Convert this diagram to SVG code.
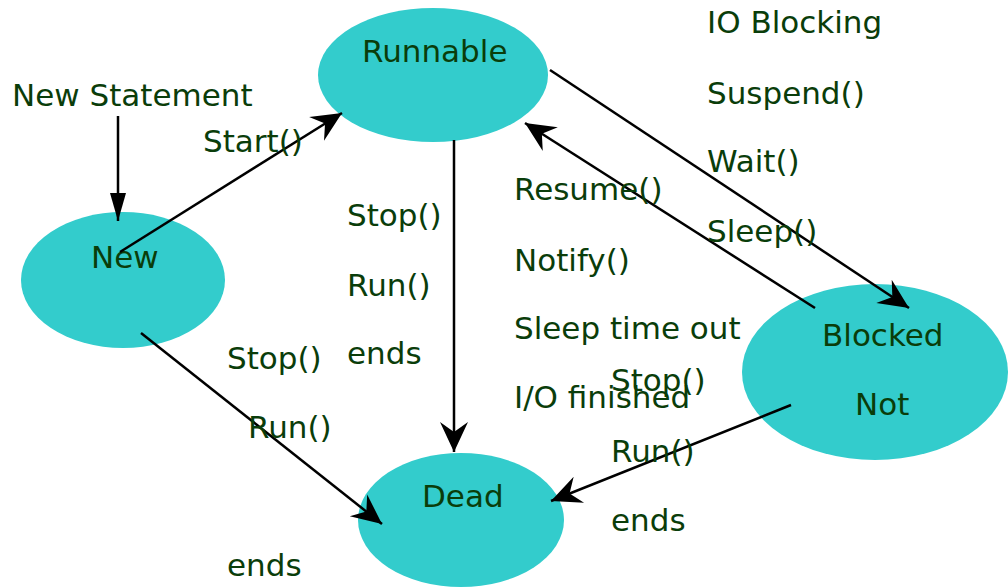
<svg xmlns="http://www.w3.org/2000/svg" width="1008" height="588" viewBox="0 0 1008 588">
<defs>
<style>
.n{fill:#33CCCC;stroke:none}
.t{font-family:"DejaVu Sans","Verdana",sans-serif;font-size:31px;fill:#0A3D0A}
.c{stroke:#000;stroke-width:2.5;fill:none}
</style>
<marker id="barb" markerUnits="userSpaceOnUse" viewBox="-32 -16 34 32" refX="0" refY="0" markerWidth="34" markerHeight="32" orient="auto">
<path d="M0,0 L-30,-14 L-20,0 L-30,14 Z" fill="#000"/>
</marker>
<marker id="tri" markerUnits="userSpaceOnUse" viewBox="-30 -10 32 20" refX="0" refY="0" markerWidth="32" markerHeight="20" orient="auto">
<path d="M0,0 L-28,-8 L-28,8 Z" fill="#000"/>
</marker>
</defs>
<rect width="1008" height="588" fill="#fff"/>
<g id="node-runnable"><ellipse class="n" cx="433" cy="75" rx="115" ry="67"/><text class="t" x="362" y="62">Runnable</text></g>
<g id="node-new"><ellipse class="n" cx="123" cy="280" rx="102" ry="68"/><text class="t" x="91" y="268">New</text></g>
<g id="node-dead"><ellipse class="n" cx="461" cy="520" rx="103" ry="67"/><text class="t" x="422" y="507">Dead</text></g>
<g id="node-blocked"><ellipse class="n" cx="875" cy="372" rx="133" ry="88"/><text class="t" x="822" y="346">Blocked</text><text class="t" x="855" y="415">Not</text></g>
<g id="connectors">
<line class="c" x1="118" y1="116" x2="118" y2="221" marker-end="url(#tri)"/>
<line class="c" x1="120" y1="252" x2="342" y2="113" marker-end="url(#barb)"/>
<line class="c" x1="454" y1="140" x2="454" y2="452" marker-end="url(#barb)"/>
<line class="c" x1="550" y1="70" x2="909" y2="308" marker-end="url(#barb)"/>
<line class="c" x1="815" y1="308" x2="525" y2="123" marker-end="url(#barb)"/>
<line class="c" x1="791" y1="405" x2="551" y2="501" marker-end="url(#barb)"/>
<line class="c" x1="141" y1="333" x2="382" y2="524" marker-end="url(#barb)"/>
</g>
<g id="labels">
<text class="t" x="707" y="33">IO Blocking</text>
<text class="t" x="707" y="104">Suspend()</text>
<text class="t" x="707" y="172">Wait()</text>
<text class="t" x="707" y="242">Sleep()</text>
<text class="t" x="12" y="106">New Statement</text>
<text class="t" x="203" y="152">Start()</text>
<text class="t" x="347" y="226">Stop()</text>
<text class="t" x="347" y="296">Run()</text>
<text class="t" x="347" y="364">ends</text>
<text class="t" x="514" y="200">Resume()</text>
<text class="t" x="514" y="271">Notify()</text>
<text class="t" x="514" y="339">Sleep time out</text>
<text class="t" x="514" y="408">I/O finished</text>
<text class="t" x="611" y="391">Stop()</text>
<text class="t" x="611" y="462">Run()</text>
<text class="t" x="611" y="531">ends</text>
<text class="t" x="227" y="369">Stop()</text>
<text class="t" x="248" y="438">Run()</text>
<text class="t" x="227" y="576">ends</text>
</g>
</svg>
